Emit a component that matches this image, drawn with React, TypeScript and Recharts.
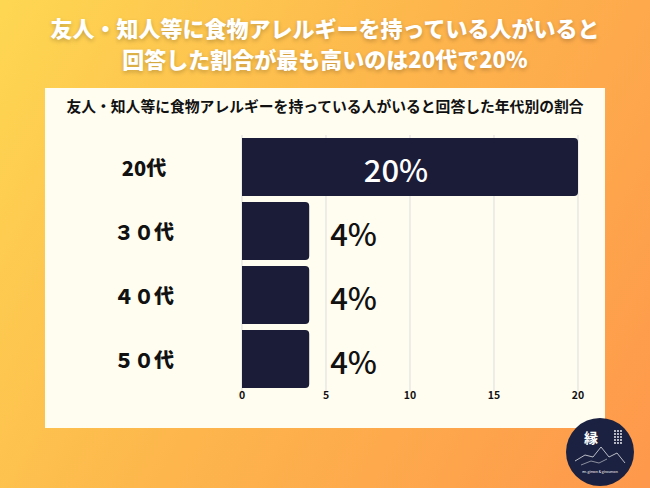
import React from 'react'
import { BarChart, Bar, XAxis, YAxis, CartesianGrid, LabelList } from 'recharts'

const ageGroups = ['20代', '３０代', '４０代', '５０代']
const percentages = [20, 4, 4, 4]
const xTicks = [0, 5, 10, 15, 20]

const chartData = ageGroups.map((age, i) => ({ age, value: percentages[i] }))

const font = '"Noto Sans CJK JP", "Noto Sans", sans-serif'
const barColor = '#1b1c38'

function AgeTick(props: any) {
  const { x, y, payload } = props
  return (
    <text x={x - 90} y={y} textAnchor="middle" dominantBaseline="central"
      fontFamily={font} fontWeight={900} fontSize={20} fill="#111">
      {payload.value}
    </text>
  )
}

function ValueLabel(props: any) {
  const { x, y, width, height, value } = props
  const text = `${value}%`
  // wide bar gets its label inside, short bars get it to the right
  if (width > 150) {
    return (
      <text x={x + width / 2 - 14} y={y + height / 2 + 1} textAnchor="middle" dominantBaseline="central"
        fontFamily={font} fontWeight={500} fontSize={31} fill="#fff">
        {text}
      </text>
    )
  }
  return (
    <text x={x + width + 21} y={y + height / 2 + 1} textAnchor="start" dominantBaseline="central"
      fontFamily={font} fontWeight={500} fontSize={31} fill="#111">
      {text}
    </text>
  )
}

function Logo() {
  return (
    <svg width={70} height={70} style={{ position: 'absolute', left: 565, top: 417 }}>
      <circle cx={35} cy={35} r={34} fill="#1b2140" />
      <text x={26} y={26} textAnchor="middle" fontFamily={font} fontWeight={700} fontSize={14} fill="#fff">縁</text>
      <polyline points="10,44 20,38 28,40 36,30 44,40 52,36 60,46" fill="none" stroke="#fff" strokeWidth={0.7} />
      <polyline points="16,48 26,44 34,46 42,42" fill="none" stroke="#fff" strokeWidth={0.5} />
      {[0, 1, 2, 3, 4].map(r => [0, 1, 2].map(c => (
        <circle key={`${r}-${c}`} cx={50 + c * 3} cy={14 + r * 3} r={0.9} fill="#fff" />
      )))}
      <text x={35} y={56} textAnchor="middle" fontFamily={font} fontSize={3.5} fill="#fff">en-gimon &amp; giroumon</text>
    </svg>
  )
}

export default function App() {
  return (
    <div style={{
      position: 'absolute', left: 0, top: 0, width: 650, height: 488, overflow: 'hidden',
      background: 'linear-gradient(120deg, #fed752 0%, #fdb74c 45%, #fe984c 100%)',
      fontFamily: font,
    }}>
      <div style={{
        position: 'absolute', left: 0, top: 12, width: 650, textAlign: 'center',
        color: '#fff', fontWeight: 900, fontSize: 22, lineHeight: '31px',
        textShadow: '0 2px 4px rgba(0,0,0,0.22)',
      }}>
        友人・知人等に食物アレルギーを持っている人がいると<br />回答した割合が最も高いのは20代で20%
      </div>
      <div style={{ position: 'absolute', left: 45, top: 88, width: 560, height: 340, background: '#fffcf0' }}>
        <div style={{
          position: 'absolute', left: 0, top: 7, width: 560, textAlign: 'center',
          fontWeight: 700, fontSize: 14.8, color: '#111',
        }}>
          友人・知人等に食物アレルギーを持っている人がいると回答した年代別の割合
        </div>
        <BarChart width={560} height={340} data={chartData} layout="vertical"
          margin={{ top: 47, right: 27, bottom: 17, left: 0 }} barCategoryGap={3}>
          <CartesianGrid horizontal={false} stroke="#dddddd" />
          <XAxis type="number" domain={[0, 20]} ticks={xTicks} axisLine={false} tickLine={false}
            tick={{ fontSize: 10.5, fontWeight: 700, fill: '#111', fontFamily: font }} height={20}
            tickSize={1} tickMargin={0} />
          <YAxis type="category" dataKey="age" width={197} axisLine={false} tickLine={false} tick={<AgeTick />} />
          <Bar dataKey="value" fill={barColor} radius={[0, 4, 4, 0]} isAnimationActive={false}>
            <LabelList dataKey="value" content={<ValueLabel />} />
          </Bar>
        </BarChart>
      </div>
      <Logo />
    </div>
  )
}
